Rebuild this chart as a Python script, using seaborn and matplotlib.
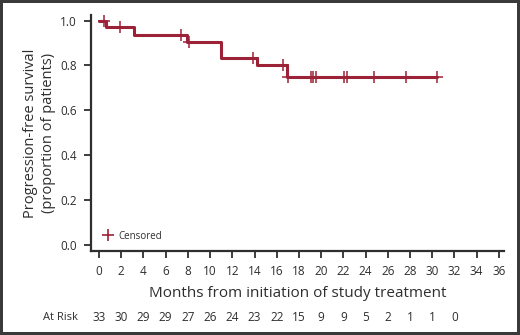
import numpy as np
import pandas as pd
import matplotlib
matplotlib.use('Agg')
import matplotlib.pyplot as plt
from matplotlib.lines import Line2D
import seaborn as sns

sns.set_theme(style='ticks')
plt.rcParams['font.family'] = ['Open Sans', 'DejaVu Sans']

# step curve (months, proportion)
step_months = [0, 0.63, 3.15, 7.95, 11.0, 14.2, 16.9, 30.4]
step_surv = [1.0, 0.970, 0.937, 0.903, 0.835, 0.800, 0.750, 0.750]
censor_months = [0.45, 1.9, 7.35, 8.1, 13.9, 16.6, 17.05, 19.1, 19.3, 19.5,
                 22.1, 22.3, 24.8, 27.6, 30.4]
risk_months = list(range(0, 33, 2))
at_risk = [33, 30, 29, 29, 27, 26, 24, 23, 22, 15, 9, 9, 5, 2, 1, 1, 0]
x_ticks = list(range(0, 37, 2))
y_ticks = [0.0, 0.2, 0.4, 0.6, 0.8, 1.0]

red = '#9c2237'
ink = '#2e2e2e'

curve = pd.DataFrame({'month': step_months, 'surv': step_surv})
idx = np.searchsorted(step_months, censor_months, side='right') - 1
cens = pd.DataFrame({'month': censor_months, 'surv': np.array(step_surv)[idx]})

fig = plt.figure(figsize=(5.2, 3.35), dpi=100)
ax = fig.add_axes([0.175, 0.2516, 0.794, 0.7034])

sns.lineplot(data=curve, x='month', y='surv', ax=ax, color=red, lw=2.2,
             drawstyle='steps-post', estimator=None)
sns.scatterplot(data=cens, x='month', y='surv', ax=ax, marker='+', s=70,
                color=red, linewidth=1.1, zorder=3)

ax.set_xlim(-0.72, 36.45)
ax.set_ylim(-0.027, 1.025)
ax.set_xticks(x_ticks)
ax.set_yticks(y_ticks)
ax.set_yticklabels([f'{v:.1f}' for v in y_ticks])
ax.tick_params(length=5, width=1.3, color=ink, labelcolor=ink, labelsize=8.5, pad=5)
for s in ['top', 'right']:
    ax.spines[s].set_visible(False)
for s in ['left', 'bottom']:
    ax.spines[s].set_color(ink)
    ax.spines[s].set_linewidth(1.6)

ax.set_xlabel('Months from initiation of study treatment', fontsize=11, color=ink, labelpad=6)
ax.set_ylabel('Progression-free survival\n(proportion of patients)', fontsize=10.5,
              color=ink, labelpad=3, linespacing=1.3)

handle = Line2D([], [], color=red, marker='+', ls='none', ms=9, mew=1.2)
ax.legend([handle], ['Censored'], loc='lower left', frameon=False, fontsize=7,
          handletextpad=0.1, borderaxespad=0.3, bbox_to_anchor=(0.0, 0.01),
          labelcolor=ink)

tr = ax.get_xaxis_transform()
ax.text(-1.9, -0.283, 'At Risk', transform=tr, ha='right', va='center', fontsize=8, color=ink)
for m, n in zip(risk_months, at_risk):
    ax.text(m, -0.283, str(n), transform=tr, ha='center', va='center', fontsize=8.5, color=ink)

fig.patch.set_edgecolor('#3a3a3a')
fig.patch.set_linewidth(3)

fig.savefig('out.png', dpi=100, edgecolor=fig.get_edgecolor())
